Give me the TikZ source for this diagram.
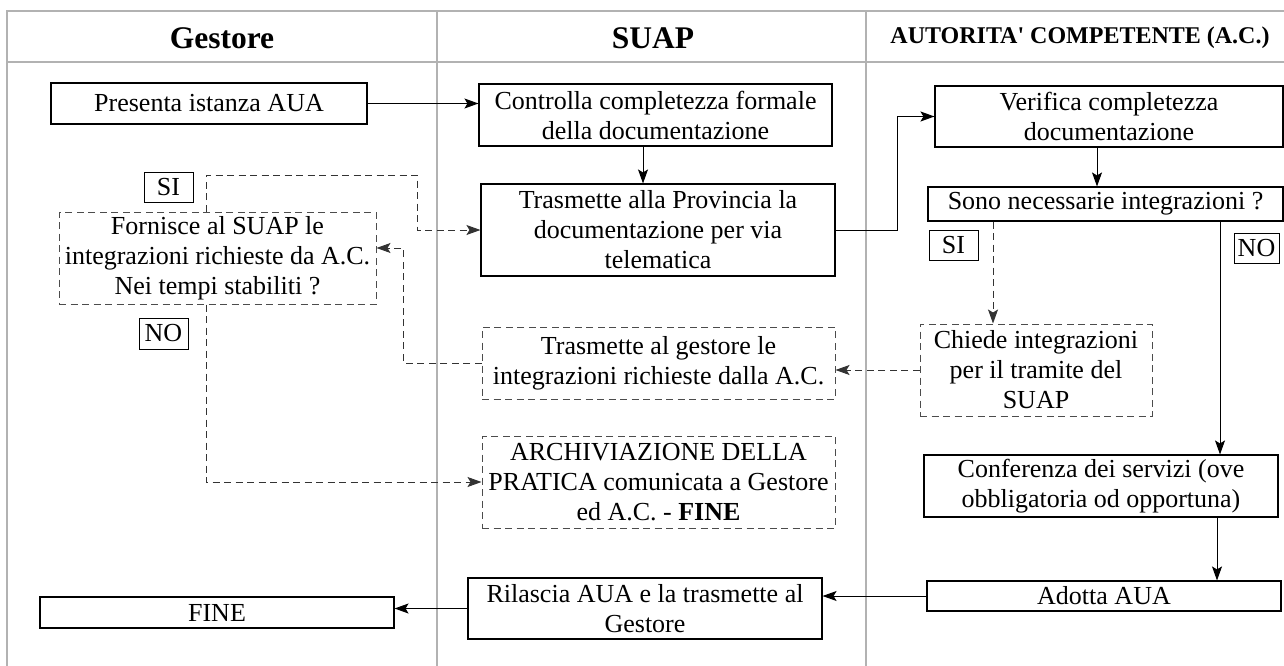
\documentclass[tikz,border=0pt]{standalone}
\usepackage{fontspec}
\setmainfont{Liberation Serif}
\newfontfamily\plainserif{Liberation Serif}[Ligatures=TeXOff]
\usetikzlibrary{arrows.meta}
\begin{document}
\begin{tikzpicture}[x=1pt,y=-1pt,
  every node/.style={font=\fontsize{26}{30}\selectfont, align=center, inner sep=0pt},
  box/.style={draw=black, line width=1.1pt},
  dbox/.style={draw=black!70, line width=1pt, dash pattern=on 7pt off 4.5pt},
  lbl/.style={draw=black, line width=1pt},
  arr/.style={line width=1pt, -{Stealth[length=14pt,width=10pt,inset=3pt]}},
  darr/.style={arr, draw=black!80, dash pattern=on 7pt off 4.5pt},
  grid/.style={draw=black!30, line width=1.4pt},
  hdr/.style={font=\fontsize{31.5}{34}\selectfont\bfseries},
  hdrs/.style={font=\fontsize{24}{28}\selectfont\plainserif\bfseries}]
\useasboundingbox (0,0) rectangle (1284,666);

% table
\draw[grid] (7,666) -- (7,11) -- (1284,11);
\draw[grid] (7,62) -- (1284,62);
\draw[grid] (437,11) -- (437,666);
\draw[grid] (866,11) -- (866,666);

\node[hdr] (hG) at (222,38) {Gestore};
\node[hdr] (hS) at (653,38) {SUAP};
\node[hdrs] (hA) at (1080,38) {AUTORITA' COMPETENTE (A.C.)};

% boxes
\node[box, minimum width=316pt, minimum height=41pt] (pres) at (209,103.5) {Presenta istanza AUA};
\node[box, minimum width=353pt, minimum height=62pt] (ctrl) at (655.5,115) {Controlla completezza formale\\della documentazione};
\node[box, minimum width=354pt, minimum height=92pt] (trasm) at (658,230) {Trasmette alla Provincia la\\documentazione per via\\telematica};
\node[box, minimum width=348pt, minimum height=61pt] (verif) at (1109,116.5) {Verifica completezza\\documentazione};
\node[box, minimum width=355pt, minimum height=34pt] (sono) at (1105.5,204) {Sono necessarie integrazioni ?};
\node[lbl, minimum width=49pt, minimum height=30pt] (siR) at (953.5,245) {SI};
\node[lbl, minimum width=45pt, minimum height=30pt] (noR) at (1256.5,248) {NO};
\node[dbox, minimum width=232pt, minimum height=92pt] (chiede) at (1036,370) {Chiede integrazioni\\per il tramite del\\SUAP};
\node[box, minimum width=354pt, minimum height=62pt] (conf) at (1101,486) {Conferenza dei servizi (ove\\obbligatoria od opportuna)};
\node[box, minimum width=354pt, minimum height=30pt] (adotta) at (1104,596) {Adotta AUA};
\node[box, minimum width=354pt, minimum height=61pt] (rilascia) at (645,608.5) {Rilascia AUA e la trasmette al\\Gestore};
\node[box, minimum width=354pt, minimum height=31pt] (fine) at (217,612.5) {FINE};
\node[dbox, minimum width=353pt, minimum height=72pt] (trgest) at (658.5,363) {Trasmette al gestore le\\integrazioni richieste dalla A.C.};
\node[dbox, minimum width=353pt, minimum height=92pt] (arch) at (658.5,482) {ARCHIVIAZIONE DELLA\\PRATICA comunicata a Gestore\\ed A.C. - \textbf{FINE}};
\node[dbox, minimum width=317pt, minimum height=92pt] (forn) at (217.5,258) {Fornisce al SUAP le\\integrazioni richieste da A.C.\\Nei tempi stabiliti ?};
\node[lbl, minimum width=49pt, minimum height=30pt] (siL) at (168.5,187) {SI};
\node[lbl, minimum width=49pt, minimum height=31pt] (noL) at (163.5,333.5) {NO};

% helper coordinates
\coordinate (b1) at ([xshift=-12.5pt]ctrl.south);
\coordinate (d1) at ([xshift=-12pt]verif.south);
\coordinate (e1) at ([xshift=-43pt]chiede.north);
\coordinate (n1) at ([xshift=114.5pt]sono.south);
\coordinate (j1) at ([xshift=116pt]conf.south);
\coordinate (h0) at ([xshift=-11.5pt]forn.north);
\coordinate (h1) at (417,175);
\coordinate (i0) at ([xshift=-11.5pt]forn.south);
\coordinate (g1) at ([yshift=10pt]forn.east);

% connectors
\draw[arr] (pres.east) -- (pres.east -| ctrl.west);
\draw[arr] (b1) -- (b1 |- trasm.north);
\draw[arr] (trasm.east) -- ++(62,0) |- (verif.west);
\draw[arr] (d1) -- (d1 |- sono.north);
\draw[darr] (e1 |- sono.south) -- (e1);
\draw[arr] (n1) -- (n1 |- conf.north);
\draw[darr] (chiede.west) -- (chiede.west -| trgest.east);
\draw[darr] (trgest.west) -- ++(-78,0) |- (g1);
\draw[darr] (h0) |- (h1) |- (trasm.west);
\draw[darr] (i0) |- (arch.west);
\draw[arr] (j1) -- (j1 |- adotta.north);
\draw[arr] (adotta.west) -- (adotta.west -| rilascia.east);
\draw[arr] (rilascia.west) -- (rilascia.west -| fine.east);
\end{tikzpicture}
\end{document}
